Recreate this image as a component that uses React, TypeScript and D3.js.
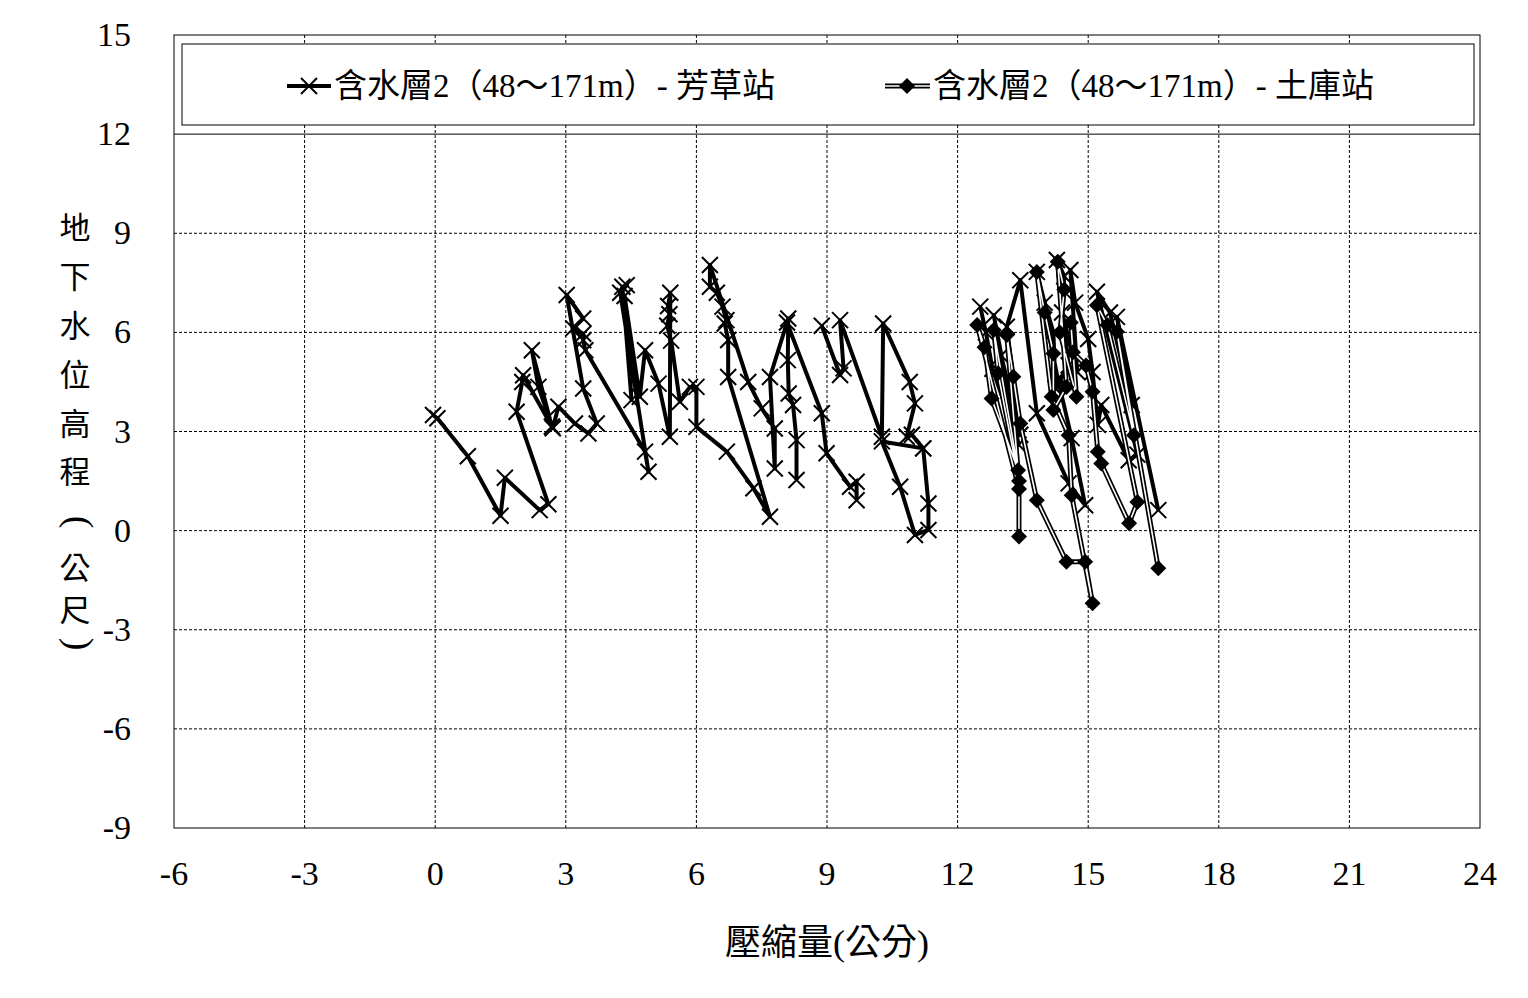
import React from "react";
import * as d3 from "d3";

// ---------- data ----------
const xTicks = [-6, -3, 0, 3, 6, 9, 12, 15, 18, 21, 24];
const yTicks = [-9, -6, -3, 0, 3, 6, 9, 12, 15];

const seriesNames = ["含水層2（48～171m）- 芳草站", "含水層2（48～171m）- 土庫站"];
const xTitle = "壓縮量(公分)";
const yTitleChars = ["地", "下", "水", "位", "高", "程", "(", "公", "尺", ")"];

// 芳草站 (NaN = gap)
const fangcaoX = [
  -0.05, 0.05, 0.75, 1.5, 1.6, 2.4, 2.6, 1.87, 2.0, 2.02, 2.68, 2.22, 2.37, 2.7, 2.83, 3.21, 3.52, 3.71, 3.4, 3.02,
  3.4, 3.17, 3.4, 3.4, 3.45, 4.82, 4.9, 4.25, 4.4, 4.3, 4.51, 4.35, 4.7, 4.82, 5.13, 5.39, 5.4, 5.35, 5.38, 5.33,
  5.42, 5.62, 5.85, 6.0, 6.0, 6.7, 7.31, 7.69, 6.73, 6.73, 6.65, 6.69, 6.6, 6.47, 6.31, 6.31, 7.19, 7.5, 7.8, 7.8,
  7.69, 8.11, 8.1, 8.12, 8.22, 8.3, 8.3, NaN, 8.08, 8.88, 8.99, 9.53, 9.68, 9.68, NaN, 8.88, 9.3, 9.38, 9.3, 10.26,
  10.29, 10.9, 11.02, 10.83, 10.95, 11.21, 10.26, 10.68, 11.02, 11.33, 11.33, 11.21, NaN,
  12.52, 12.65, 12.8, 13.4, 12.83, 13.0, 13.44, 13.13, 13.44, 13.82, 14.55, 14.93, 14.62, 14.3, 13.82, 14.0, 14.2,
  14.25, 14.55, 14.28, 14.45, 14.4, 14.75, 14.59, 14.7, 15.0, 15.1, 15.22, 15.3, 15.93, 16.13, 15.2, 15.5, 16.0,
  15.66, 16.61,
];
const fangcaoY = [
  3.5, 3.4, 2.25, 0.45, 1.6, 0.62, 0.8, 3.6, 4.5, 4.7, 3.15, 5.46, 4.35, 3.1, 3.75, 3.24, 2.94, 3.24, 4.3, 7.13,
  6.42, 6.12, 5.96, 5.76, 5.46, 2.39, 1.78, 7.2, 7.43, 7.38, 3.95, 7.1, 4.05, 5.46, 4.45, 2.84, 7.2, 6.8, 6.55, 6.2,
  5.75, 3.9, 4.35, 4.35, 3.14, 2.39, 1.28, 0.42, 4.65, 5.77, 6.27, 6.37, 6.78, 7.2, 7.38, 8.04, 4.5, 3.7, 3.09, 1.88,
  4.65, 6.42, 5.16, 4.15, 3.8, 2.74, 1.53, NaN, 6.3, 3.55, 2.34, 1.33, 1.48, 0.92, NaN, 6.2, 4.71, 4.91, 6.37, 2.84,
  6.27, 4.5, 3.85, 2.84, 2.9, 2.49, 2.7, 1.33, -0.13, 0.02, 0.82, 2.49, NaN,
  6.78, 6.0, 4.9, 2.6, 6.52, 5.3, 2.9, 6.17, 7.58, 3.55, 1.43, 0.77, 2.8, 4.6, 7.83, 6.9, 6.0,
  4.3, 5.0, 8.19, 7.7, 6.6, 4.8, 7.89, 6.9, 5.8, 4.8, 3.2, 3.8, 2.13, 2.3, 7.23, 6.6, 3.8,
  6.47, 0.62,
];

// 土庫站
const tukuX = [
  13.41, 13.41, 12.45, 12.62, 12.78, 13.39, 12.83, 12.93, 13.41, 13.13, 13.28, 13.44, 13.82, 14.5, 14.93, 15.1,
  14.62, 14.55, 14.16, 13.82, 14.0, 14.2, 14.2, 14.5, 14.3, 14.45, 14.35, 14.73, 14.6, 14.65, 14.95, 15.1, 15.22,
  15.3, 15.94, 16.13, 15.2, 15.44, 16.05, 15.66, 16.61,
];
const tukuY = [
  -0.18, 1.26, 6.22, 5.55, 4.0, 1.83, 6.07, 4.76, 1.5, 5.92, 4.66, 3.24, 0.92, -0.94, -0.94, -2.2,
  1.07, 2.89, 4.05, 7.83, 6.6, 5.36, 3.65, 4.35, 8.14, 7.3, 6.0, 4.05, 6.3, 5.4, 5.0, 4.2, 2.39,
  2.03, 0.22, 0.87, 6.82, 6.22, 2.89, 6.02, -1.14,
];

// ---------- layout ----------
const W = 1528;
const H = 998;
const PL = 174, PR = 1480, PT = 35, PB = 828;
const FONT = "'Liberation Serif', 'Times New Roman', 'Noto Sans CJK TC', serif";
const CJK = "'Noto Sans CJK TC', 'Liberation Serif', serif";

export default function App() {
  const x = d3.scaleLinear().domain([-6, 24]).range([PL, PR]);
  const y = d3.scaleLinear().domain([-9, 15]).range([PB, PT]);

  const fc = fangcaoX.map((v, i) => [v, fangcaoY[i]] as [number, number]);
  const tk = tukuX.map((v, i) => [v, tukuY[i]] as [number, number]);

  const line = d3
    .line<[number, number]>()
    .defined((d) => !isNaN(d[0]) && !isNaN(d[1]))
    .x((d) => x(d[0]))
    .y((d) => y(d[1]));

  const crossPath = "M-8,-8L8,8M-8,8L8,-8";
  const diamondPath = "M0,-8L8,0L0,8L-8,0Z";

  const legendY = 86;
  const yTitlePos = [228, 277, 326, 375, 424, 472, 522, 568, 610, 644];

  return (
    <svg width={W} height={H} style={{ position: "absolute", left: 0, top: 0, background: "#fff" }}>
      <rect x={0} y={0} width={W} height={H} fill="#fff" />
      {/* grid */}
      {xTicks.slice(1, -1).map((t) => (
        <line key={"gx" + t} x1={x(t)} x2={x(t)} y1={PT} y2={PB} stroke="#000" strokeWidth={1} strokeDasharray="3,2" />
      ))}
      {yTicks.slice(1, -1).map((t) => (
        <line key={"gy" + t} x1={PL} x2={PR} y1={y(t)} y2={y(t)} stroke="#000" strokeWidth={1}
          strokeDasharray={t === 12 ? undefined : "3,2"} />
      ))}
      <rect x={PL} y={PT} width={PR - PL} height={PB - PT} fill="none" stroke="#000" strokeWidth={1} />

      {/* tick labels */}
      {xTicks.map((t) => (
        <text key={"xl" + t} x={x(t)} y={885} fontSize={34} fontFamily={FONT} textAnchor="middle">{t}</text>
      ))}
      {yTicks.map((t) => (
        <text key={"yl" + t} x={131} y={y(t) + 11} fontSize={34} fontFamily={FONT} textAnchor="end">{t}</text>
      ))}

      {/* axis titles */}
      <text x={827} y={955} fontSize={36} fontFamily={FONT} textAnchor="middle">{xTitle}</text>
      {yTitleChars.map((c, i) => {
        const paren = c === "(" || c === ")";
        if (paren) {
          return (
            <text key={"yt" + i} x={0} y={0} fontSize={38} fontFamily={FONT} textAnchor="middle"
              dominantBaseline="central" transform={`translate(80,${yTitlePos[i]}) rotate(90)`}>{c}</text>
          );
        }
        return (
          <text key={"yt" + i} x={75} y={yTitlePos[i] + 11} fontSize={31} fontFamily={CJK} textAnchor="middle">{c}</text>
        );
      })}

      {/* series 芳草站 */}
      <path d={line(fc) || ""} fill="none" stroke="#000" strokeWidth={4} strokeLinejoin="round" />
      {fc.filter((d) => !isNaN(d[0])).map((d, i) => (
        <path key={"fc" + i} d={crossPath} transform={`translate(${x(d[0])},${y(d[1])})`} stroke="#000" strokeWidth={2} fill="none" />
      ))}

      {/* series 土庫站 (double line) */}
      <path d={line(tk) || ""} fill="none" stroke="#000" strokeWidth={5} strokeLinejoin="round" />
      <path d={line(tk) || ""} fill="none" stroke="#fff" strokeWidth={1.6} strokeLinejoin="round" />
      {tk.map((d, i) => (
        <path key={"tk" + i} d={diamondPath} transform={`translate(${x(d[0])},${y(d[1])})`} fill="#000" />
      ))}

      {/* legend */}
      <rect x={182} y={44} width={1292} height={81} fill="#fff" stroke="#000" strokeWidth={1} />
      <line x1={287} x2={331} y1={legendY} y2={legendY} stroke="#000" strokeWidth={4} />
      <path d={crossPath} transform={`translate(309,${legendY})`} stroke="#000" strokeWidth={2} fill="none" />
      <text x={334} y={legendY + 11} fontSize={33} fontFamily={FONT}>{seriesNames[0]}</text>

      <line x1={885} x2={930} y1={legendY} y2={legendY} stroke="#000" strokeWidth={5} />
      <line x1={885} x2={930} y1={legendY} y2={legendY} stroke="#fff" strokeWidth={1.6} />
      <path d={diamondPath} transform={`translate(907,${legendY})`} fill="#000" />
      <text x={933} y={legendY + 11} fontSize={33} fontFamily={FONT}>{seriesNames[1]}</text>
    </svg>
  );
}
